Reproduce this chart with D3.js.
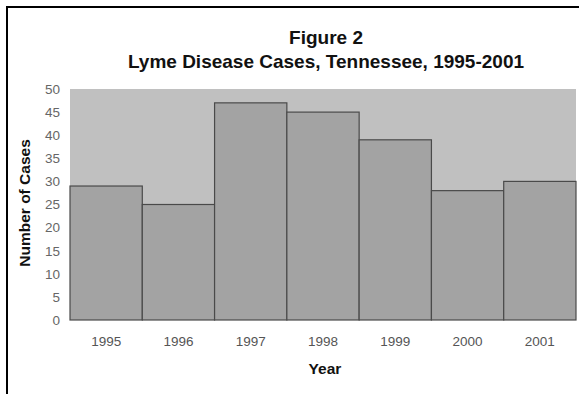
<!DOCTYPE html>
<html>
<head>
<meta charset="utf-8">
<script src="https://cdn.jsdelivr.net/npm/d3@7"></script>
<style>
  html, body { margin: 0; padding: 0; background: #fff; }
  svg { display: block; font-family: "Liberation Sans", Arial, sans-serif; }
</style>
</head>
<body>
<svg id="chart" width="579" height="394"></svg>
<script>
// Lyme disease cases reported in Tennessee by year
const years = ["1995", "1996", "1997", "1998", "1999", "2000", "2001"];
const cases = [29, 25, 47, 45, 39, 28, 30];
const yTicks = [0, 5, 10, 15, 20, 25, 30, 35, 40, 45, 50];
const titleLines = ["Figure 2", "Lyme Disease Cases, Tennessee, 1995-2001"];

const svg = d3.select("#chart");
const plot = { left: 70, right: 576, top: 89, bottom: 320 };

// outer frame
svg.append("rect")
  .attr("x", 7).attr("y", 7)
  .attr("width", 600).attr("height", 420)
  .attr("fill", "#fff")
  .attr("stroke", "#000")
  .attr("stroke-width", 2);

const x = d3.scaleBand().domain(years).range([plot.left, plot.right]).padding(0);
const y = d3.scaleLinear().domain([0, 50]).range([plot.bottom, plot.top]);

// plot area background
svg.append("rect")
  .attr("x", plot.left).attr("y", plot.top)
  .attr("width", plot.right - plot.left).attr("height", plot.bottom - plot.top)
  .attr("fill", "#c0c0c0");

// bars
svg.append("g").selectAll("rect")
  .data(years.map((yr, i) => ({ yr, v: cases[i] })))
  .join("rect")
  .attr("x", d => x(d.yr))
  .attr("y", d => y(d.v))
  .attr("width", x.bandwidth())
  .attr("height", d => y(0) - y(d.v))
  .attr("fill", "#a3a3a3")
  .attr("stroke", "#4a4a4a")
  .attr("stroke-width", 1.2);

// y axis (labels only)
const yAxis = svg.append("g")
  .attr("transform", `translate(${plot.left},0)`)
  .call(d3.axisLeft(y).tickValues(yTicks).tickSize(0).tickPadding(10));
yAxis.select(".domain").remove();
yAxis.selectAll("text")
  .attr("fill", "#666")
  .style("font-size", "13.5px");

// x axis (labels only)
const xAxis = svg.append("g")
  .attr("transform", `translate(0,${plot.bottom})`)
  .call(d3.axisBottom(x).tickSize(0).tickPadding(16));
xAxis.select(".domain").remove();
xAxis.selectAll("text")
  .attr("fill", "#555")
  .style("font-size", "13.5px");

// titles
svg.append("g").selectAll("text")
  .data(titleLines)
  .join("text")
  .attr("x", 326)
  .attr("y", (d, i) => 44 + i * 24)
  .attr("text-anchor", "middle")
  .attr("font-weight", "bold")
  .attr("font-size", "19px")
  .attr("fill", "#111")
  .text(d => d);

// axis titles
svg.append("text")
  .attr("x", 325).attr("y", 374)
  .attr("text-anchor", "middle")
  .attr("font-weight", "bold")
  .attr("font-size", "15.5px")
  .attr("fill", "#111")
  .text("Year");

svg.append("text")
  .attr("transform", "translate(30,203) rotate(-90)")
  .attr("text-anchor", "middle")
  .attr("font-weight", "bold")
  .attr("font-size", "15.5px")
  .attr("fill", "#111")
  .text("Number of Cases");
</script>
</body>
</html>
